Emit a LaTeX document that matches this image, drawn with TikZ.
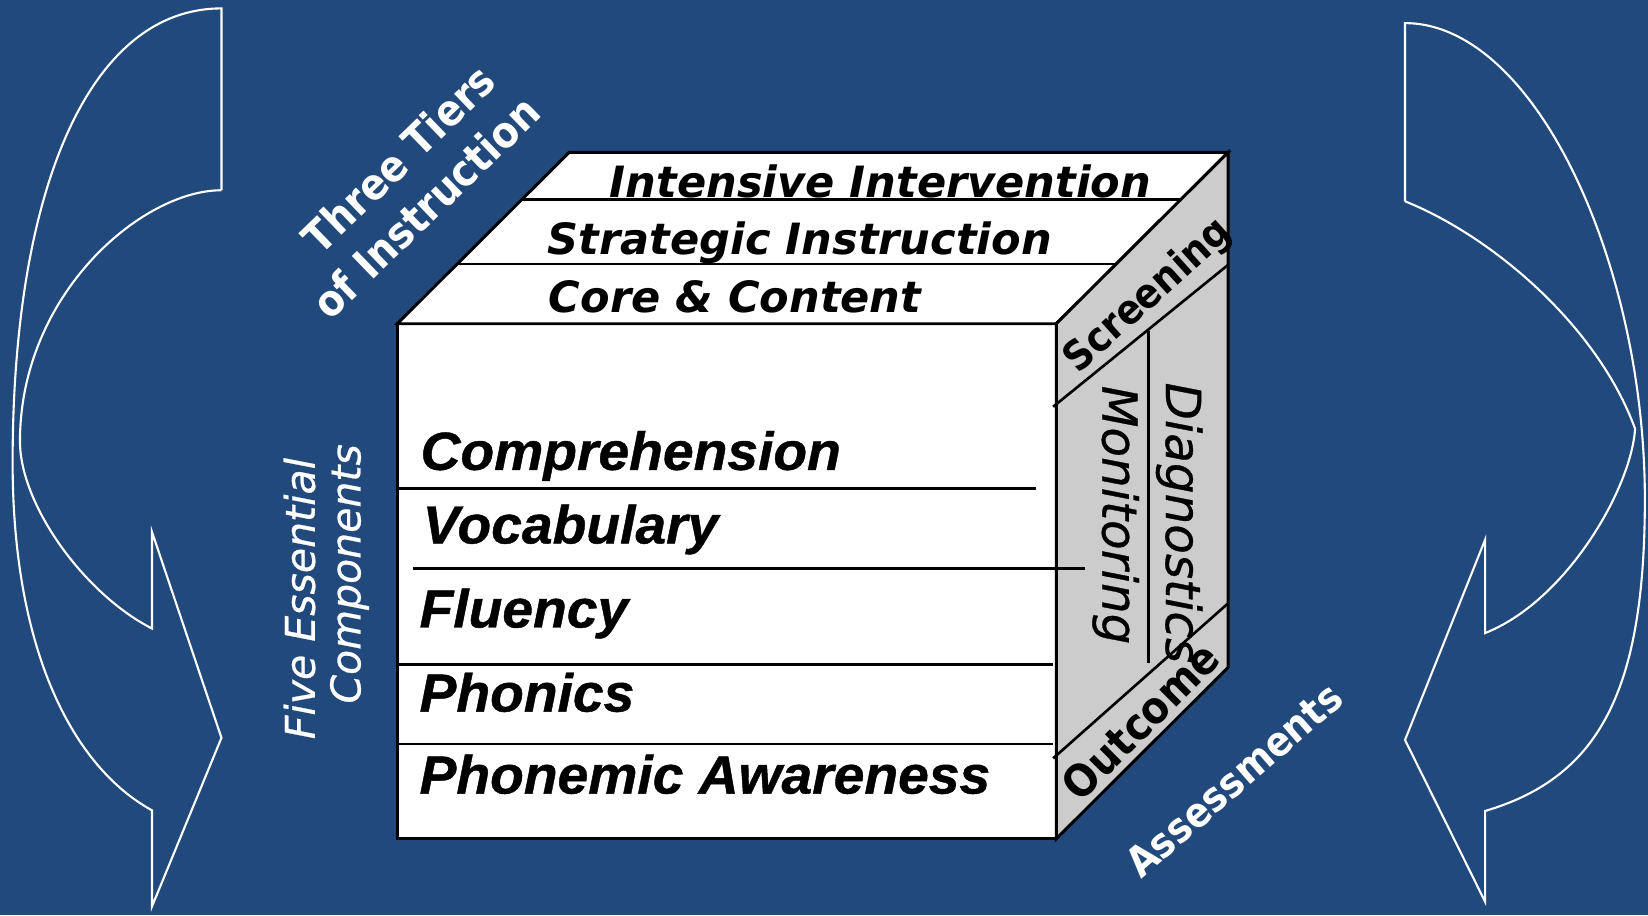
\documentclass[tikz,border=0pt]{standalone}
\usepackage{fontspec}
\newfontfamily\lsans{Liberation Sans}[FakeStretch=1.03, FakeBold=0.8]
\newfontfamily\dvs{DejaVu Sans}
\newfontfamily\dvsm{DejaVu Sans}[FakeBold=0.6]
\newfontfamily\dvsn{DejaVu Sans}[FakeStretch=0.9]
\definecolor{bgblue}{RGB}{33,73,124}
\definecolor{facegray}{RGB}{204,204,204}
\begin{document}
\begin{tikzpicture}[x=1pt,y=-1pt,
  arrowline/.style={draw=white, line width=2pt, line join=miter},
  cubeedge/.style={draw=black, line width=2.8pt, line join=miter},
  sepline/.style={draw=black, line width=2.5pt},
  tierlbl/.style={anchor=base west, inner sep=0pt, font=\dvs\bfseries\itshape\fontsize{41}{41}\selectfont},
  frontlbl/.style={anchor=base west, inner sep=0pt, font=\lsans\bfseries\itshape\fontsize{51}{51}\selectfont},
  sidelbl/.style={inner sep=0pt, font=\dvsm\itshape\fontsize{46}{46}\selectfont},
  assesslbl/.style={inner sep=0pt, font=\dvsn\bfseries\fontsize{39}{39}\selectfont},
  whitelbl/.style={inner sep=0pt, text=white, font=\dvsn\bfseries\fontsize{39}{39}\selectfont},
  fivelbl/.style={inner sep=0pt, text=white, font=\dvsm\itshape\fontsize{39}{39}\selectfont}]
\path[use as bounding box, fill=bgblue] (0,0) rectangle (1568,871);

% left curved arrow
\draw[arrowline] (210.7,181) -- (210.7,8)
  .. controls (85,8) and (12,180) .. (12,440)
  .. controls (12,620) and (70,730) .. (144.6,771)
  -- (144.6,862.5) -- (210.7,702) -- (144.6,506) -- (144.6,598)
  .. controls (80,565) and (19,480) .. (19,420)
  .. controls (19,280) and (135,181) .. (210.7,181);

% right curved arrow
\draw[arrowline] (1336.8,191.5) -- (1336.8,22)
  .. controls (1460,22) and (1565,250) .. (1565,475)
  .. controls (1565,660) and (1520,740) .. (1413,771.6)
  -- (1413,858) -- (1336.8,704) -- (1413,513.5) -- (1413,602.3)
  .. controls (1490,572) and (1552,465) .. (1555.7,408)
  .. controls (1520,310) and (1420,225) .. (1336.8,191.5);

% cube corners
\coordinate (FTL) at (378,308);
\coordinate (FTR) at (1005,308);
\coordinate (FBL) at (378,798);
\coordinate (FBR) at (1005,798);
\coordinate (BTL) at (541.5,145);
\coordinate (BTR) at (1168.5,145);
\coordinate (BBR) at (1168.5,635);

\draw[cubeedge, fill=white] (FTL) rectangle (FBR);
\draw[cubeedge, fill=white] (FTL) -- (BTL) -- (BTR) -- (FTR) -- cycle;
\draw[cubeedge, fill=facegray] (FTR) -- (BTR) -- (BBR) -- (FBR) -- cycle;

% top face separators
\draw[sepline] (496,190) -- (1123.5,190);
\draw[sepline] (435,251) -- (1062,251);
% front face separators
\draw[sepline] (378,465) -- (986,465);
\draw[sepline] (392.5,541) -- (1032,541);
\draw[sepline] (378,632) -- (1002,632);
\draw[sepline] (378,708) -- (1002,708);
% right face separators
\draw[sepline] (1002,387) -- (1168.5,252);
\draw[sepline] (1002,721.5) -- (1168.5,574);
\draw[sepline] (1093,315) -- (1093,631);

% tier labels
\node[tierlbl] (tint) at (580,188) {Intensive Intervention};
\node[tierlbl] (tstr) at (521,242) {Strategic Instruction};
\node[tierlbl] (tcore) at (522,297) {Core \& Content};

% component labels
\node[frontlbl] (comp1) at (400,447) {Comprehension};
\node[frontlbl] (comp2) at (402,517) {Vocabulary};
\node[frontlbl] (comp3) at (399,597) {Fluency};
\node[frontlbl] (comp4) at (399,677) {Phonics};
\node[frontlbl] (comp5) at (399,755) {Phonemic Awareness};

% assessment labels
\node[sidelbl, rotate=-90] (mon) at (1061.5,490) {Monitoring};
\node[sidelbl, rotate=-90] (dia) at (1122,497.5) {Diagnostics};
\node[assesslbl, rotate=42] (scr) at (1093,282) {Screening};
\node[assesslbl, rotate=45, font=\dvsn\bfseries\fontsize{42}{42}\selectfont] (outc) at (1085,686) {Outcome};

% white captions
\node[whitelbl, rotate=44, font=\dvsn\bfseries\fontsize{41}{41}\selectfont] (three) at (379,151) {Three Tiers};
\node[whitelbl, rotate=44, font=\dvsn\bfseries\fontsize{41}{41}\selectfont] (ofinst) at (405,197) {of Instruction};
\node[whitelbl, rotate=41] (assess) at (1174,742) {Assessments};
\node[fivelbl, rotate=90] (five) at (285,569.5) {Five Essential};
\node[fivelbl, rotate=90] (compo) at (332.5,546) {Components};
\end{tikzpicture}
\end{document}
